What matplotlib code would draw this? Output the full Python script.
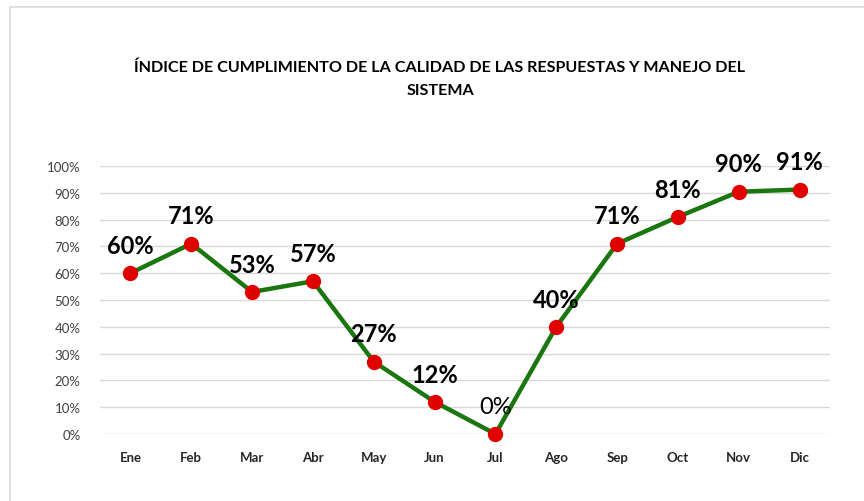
import matplotlib.pyplot as plt
from matplotlib.patches import Rectangle
from matplotlib.ticker import PercentFormatter

months = ["Ene", "Feb", "Mar", "Abr", "May", "Jun", "Jul", "Ago", "Sep", "Oct", "Nov", "Dic"]
values = [60, 71, 53, 57, 27, 12, 0, 40, 71, 81, 90.4, 91.2]
labels = ["60%", "71%", "53%", "57%", "27%", "12%", "0%", "40%", "71%", "81%", "90%", "91%"]

plt.rcParams["font.family"] = ["Lato", "DejaVu Sans"]

fig = plt.figure(figsize=(8.64, 5.02), dpi=100)
fig.patches.append(Rectangle((10 / 864, -0.02), 1.0, 1 - 8 / 502 + 0.02, transform=fig.transFigure,
                             facecolor="none", edgecolor="#D9D9D9", linewidth=1.2))
ax = fig.add_axes([100 / 864, 1 - 435 / 502, 730 / 864, 268 / 502])

x = list(range(len(months)))
ax.plot(x, values, color="#1A760F", linewidth=3.2, zorder=3, clip_on=False)
ax.plot(x, values, linestyle="none", marker="o", markersize=10, markerfacecolor="#E00000",
        markeredgecolor="#E00000", zorder=4, clip_on=False)

for xi, v, lab in zip(x, values, labels):
    ax.annotate(lab, (xi, v), xytext=(0, 20), textcoords="offset points", ha="center",
                va="center", fontsize=17, fontweight="normal" if lab == "0%" else "bold",
                color="#000000", zorder=5)

ax.set_xlim(-0.5, len(months) - 0.5)
ax.set_ylim(0, 100)
ax.set_yticks(range(0, 101, 10))
ax.yaxis.set_major_formatter(PercentFormatter(decimals=0))
ax.set_xticks(x)
ax.set_xticklabels(months, fontweight="bold")
ax.grid(axis="y", color="#D9D9D9", linewidth=1)
ax.set_axisbelow(True)
for s in ax.spines.values():
    s.set_visible(False)
ax.tick_params(axis="y", length=0, labelsize=9.5, colors="#404040", pad=14)
ax.tick_params(axis="x", length=0, labelsize=9.5, colors="#262626", pad=12)

fig.text(440 / 864, 1 - 68 / 502, "ÍNDICE DE CUMPLIMIENTO DE LA CALIDAD DE LAS RESPUESTAS Y MANEJO DEL",
         ha="center", va="center", fontsize=11.6, fontweight="bold", color="#000000")
fig.text(440 / 864, 1 - 91 / 502, "SISTEMA", ha="center", va="center", fontsize=11.6,
         fontweight="bold", color="#000000")

fig.savefig("out.png", dpi=100)
